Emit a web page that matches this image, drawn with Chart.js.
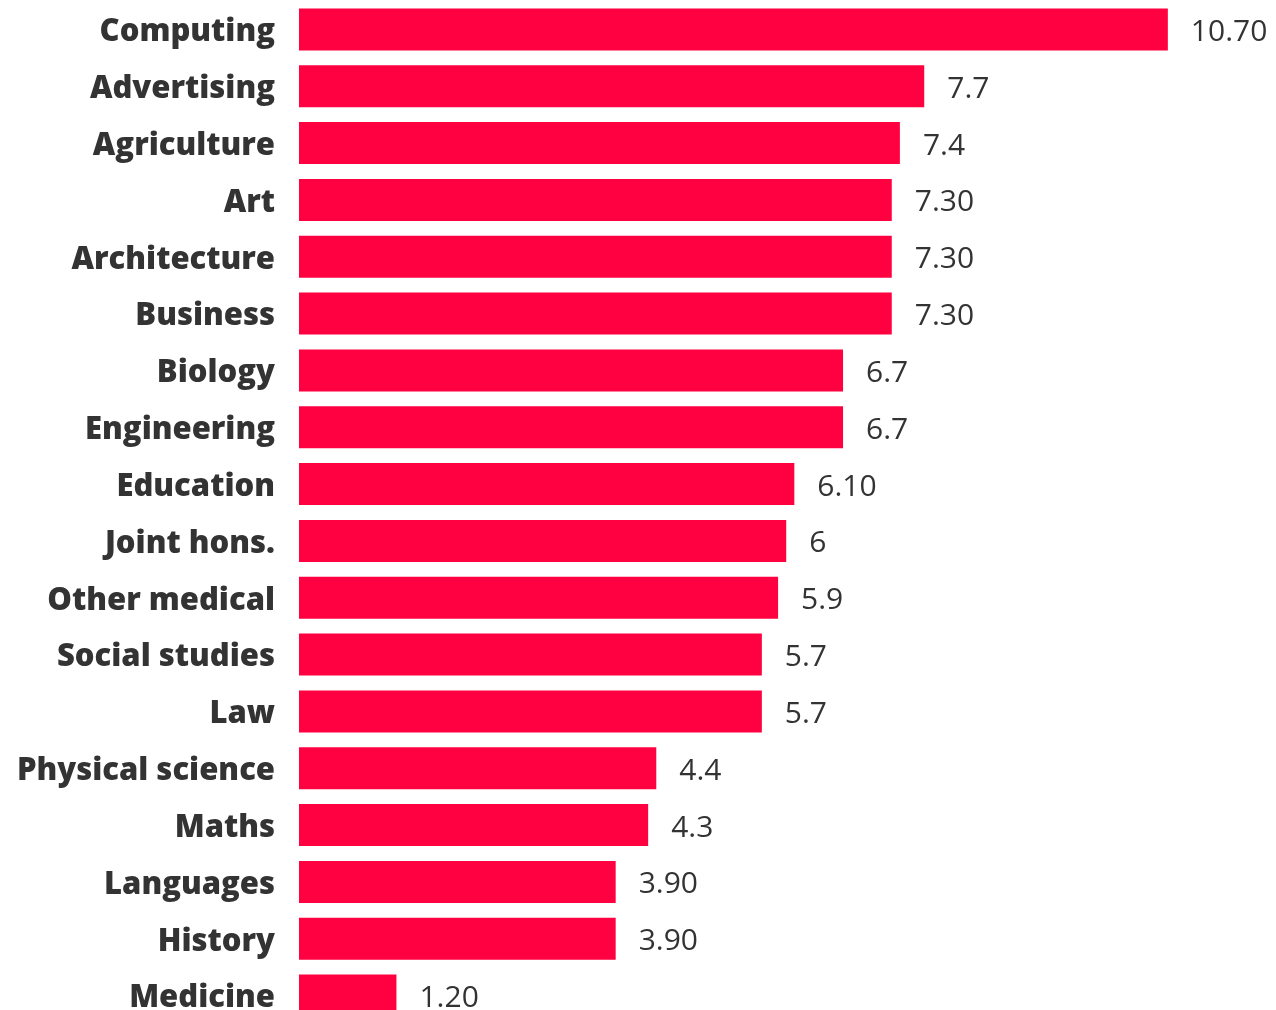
<!DOCTYPE html>
<html>
	<head>
		<title>Bar chart</title>
		<style type="text/css">
			html, body { margin: 0; padding: 0; background: #fff; overflow: hidden; }
			#chart-container {
				width: 1276px;
				height: 1024px;
			}
		</style>
	</head>
	<body>
		<div id="chart-container">
			<canvas id="mycanvas"></canvas>
		</div>

		<script src="https://cdn.jsdelivr.net/npm/chart.js@4.4.1/dist/chart.umd.min.js"></script>
		<script>
			var subjects = ["Computing", "Advertising", "Agriculture", "Art", "Architecture", "Business",
				"Biology", "Engineering", "Education", "Joint hons.", "Other medical", "Social studies",
				"Law", "Physical science", "Maths", "Languages", "History", "Medicine"];
			var values = [10.7, 7.7, 7.4, 7.3, 7.3, 7.3, 6.7, 6.7, 6.1, 6, 5.9, 5.7, 5.7, 4.4, 4.3, 3.9, 3.9, 1.2];
			var valueLabels = ["10.70", "7.7", "7.4", "7.30", "7.30", "7.30", "6.7", "6.7", "6.10", "6",
				"5.9", "5.7", "5.7", "4.4", "4.3", "3.90", "3.90", "1.20"];

			// writes the value text to the right of each bar
			var valueText = {
				id: 'valueText',
				afterDatasetsDraw: function(chart) {
					var ctx = chart.ctx;
					var meta = chart.getDatasetMeta(0);
					ctx.save();
					ctx.font = '400 30px "Open Sans"';
					ctx.fillStyle = '#333333';
					ctx.textAlign = 'left';
					ctx.textBaseline = 'middle';
					meta.data.forEach(function(bar, i) {
						ctx.fillText(valueLabels[i], bar.x + 23, bar.y + 3);
					});
					ctx.restore();
				}
			};

			var ctx = document.getElementById('mycanvas');

			var barGraph = new Chart(ctx, {
				type: 'bar',
				data: {
					labels: subjects,
					datasets: [{
						data: values,
						backgroundColor: '#ff0040',
						borderWidth: 0,
						categoryPercentage: 1,
						barPercentage: 0.74
					}]
				},
				options: {
					indexAxis: 'y',
					responsive: true,
					maintainAspectRatio: false,
					animation: false,
					layout: { padding: { top: 1, right: 2.6, bottom: 0, left: 0 } },
					plugins: {
						legend: { display: false },
						tooltip: { enabled: false }
					},
					scales: {
						x: {
							display: false,
							min: 0,
							max: 12
						},
						y: {
							grid: { display: false, drawTicks: false },
							border: { display: false },
							ticks: {
								color: '#333333',
								padding: 24,
								labelOffset: 3,
								font: { family: '"Open Sans"', size: 31, weight: '800' }
							},
							afterFit: function(scale) {
								scale.width = 299;
								scale.paddingTop = 0;
								scale.paddingBottom = 0;
							}
						}
					}
				},
				plugins: [valueText]
			});
		</script>
	</body>
</html>
